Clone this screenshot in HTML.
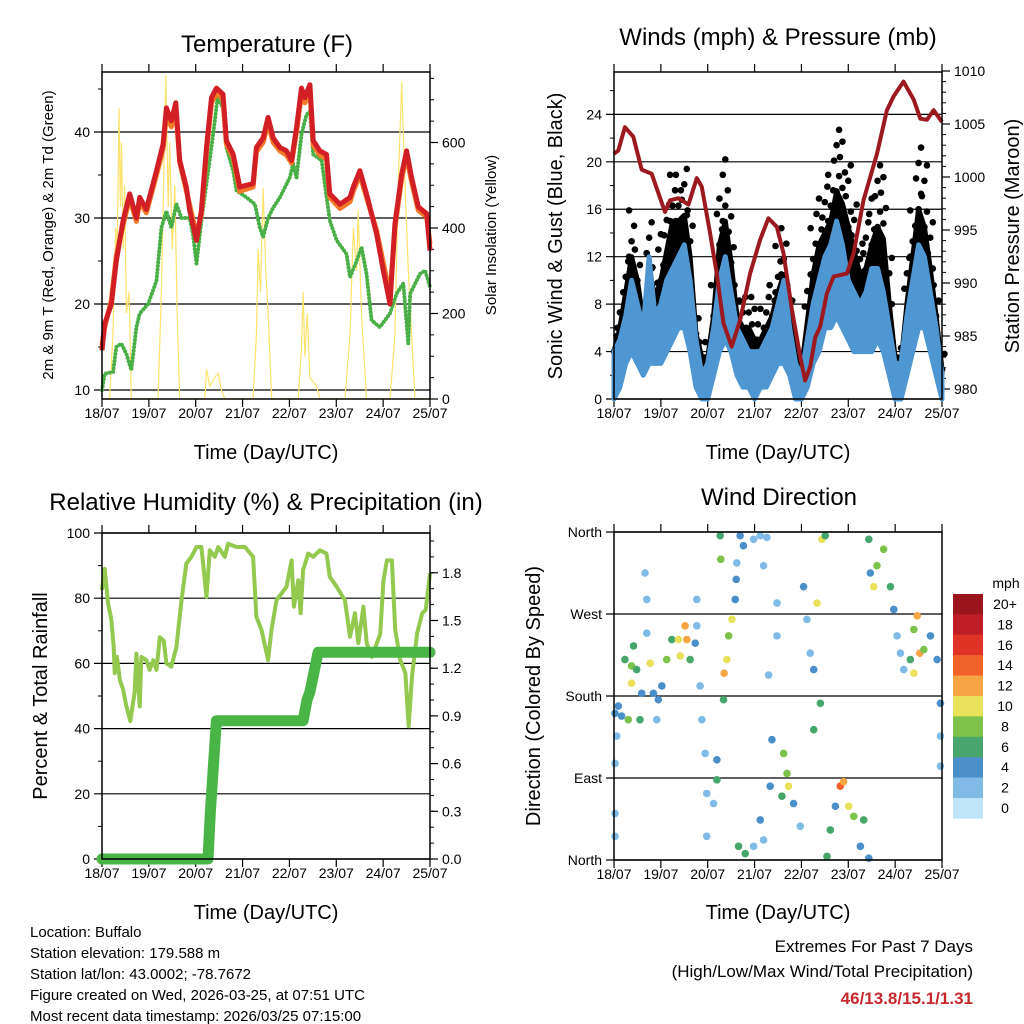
<!DOCTYPE html>
<html><head><meta charset="utf-8">
<style>
html,body{margin:0;padding:0;background:#fff;}
svg{display:block;font-family:"Liberation Sans",sans-serif;}
</style></head>
<body>
<svg id="fig" width="1024" height="1024" viewBox="0 0 1024 1024" xmlns="http://www.w3.org/2000/svg">
<rect width="1024" height="1024" fill="#fff"/>
<text x="267" y="52" font-size="24" text-anchor="middle">Temperature (F)</text>
<text x="778" y="45" font-size="24" text-anchor="middle">Winds (mph) &amp; Pressure (mb)</text>
<text x="266" y="510" font-size="24" text-anchor="middle">Relative Humidity (%) &amp; Precipitation (in)</text>
<text x="779" y="505" font-size="24" text-anchor="middle">Wind Direction</text>

<text x="266" y="459" font-size="20" text-anchor="middle">Time (Day/UTC)</text>
<text x="778" y="459" font-size="20" text-anchor="middle">Time (Day/UTC)</text>
<text x="266" y="919" font-size="20" text-anchor="middle">Time (Day/UTC)</text>
<text x="778" y="919" font-size="20" text-anchor="middle">Time (Day/UTC)</text>

<text transform="translate(53,235) rotate(-90)" font-size="15" text-anchor="middle">2m &amp; 9m T (Red, Orange) &amp; 2m Td (Green)</text>
<text transform="translate(496,235) rotate(-90)" font-size="15" text-anchor="middle">Solar Insolation (Yellow)</text>
<text transform="translate(562,236) rotate(-90)" font-size="20" text-anchor="middle">Sonic Wind &amp; Gust (Blue, Black)</text>
<text transform="translate(1019,236) rotate(-90)" font-size="20" text-anchor="middle">Station Pressure (Maroon)</text>
<text transform="translate(47,696) rotate(-90)" font-size="20" text-anchor="middle">Percent &amp; Total Rainfall</text>
<text transform="translate(540,696) rotate(-90)" font-size="20" text-anchor="middle">Direction (Colored By Speed)</text>

<g font-size="15">
<text x="30" y="937">Location: Buffalo</text>
<text x="30" y="958">Station elevation: 179.588 m</text>
<text x="30" y="979">Station lat/lon: 43.0002; -78.7672</text>
<text x="30" y="1000">Figure created on Wed, 2026-03-25, at 07:51 UTC</text>
<text x="30" y="1021">Most recent data timestamp: 2026/03/25 07:15:00</text>
</g>
<g text-anchor="end">
<text x="973" y="952" font-size="17">Extremes For Past 7 Days</text>
<text x="973" y="977" font-size="17">(High/Low/Max Wind/Total Precipitation)</text>
<text x="973" y="1004" font-size="17" font-weight="bold" fill="#c8282c">46/13.8/15.1/1.31</text>
</g>
<g id="plots"></g>
</svg>
<script>
// ---------- data ----------
const dayLabels = ["18/07","19/07","20/07","21/07","22/07","23/07","24/07","25/07"];
const tempHours = [0,1.4,4.8,7.3,10.8,14.2,17.6,19.3,22.7,27.9,31.3,33,35.5,37.8,39.8,43.2,44.9,48.4,50.9,53.5,56.1,58.6,62,63.7,67.2,70.6,77.4,79.1,82.5,85.1,87.7,91.1,94.5,97.1,99.6,102.2,103.9,106.5,108.2,111.6,115,116.7,121.9,127,128.7,132.1,135.5,140.6,144.1,147.5,150,153.5,156,158.6,162,166.3,168];
const temp2m = [14.6,17.7,20,25,29.7,32.8,30,32.4,31,35.5,38.6,42.8,41.3,43.4,36.7,33.6,30.9,27.4,30.9,38.2,44,45.1,44.4,39,37.4,33.6,34,38.2,39.3,41.7,39.3,38.2,37.8,36.7,40.5,45.1,44,45.5,39,37.8,37.4,32.8,31.6,32.4,33.6,35.5,32.8,28.2,23.9,20,29.3,35.1,37.8,34.7,31.3,30.5,26.2];
const temp9m = [15.2,17.3,20.5,25.6,29.2,32.3,29.6,31.9,30.6,35,38,42,40.6,42.6,36.5,33.2,31.5,28,30.4,37.8,43.4,44.5,43.8,38.6,37,33.1,33.6,37.7,38.8,41,38.8,37.8,37.3,36.4,40,44.4,43.4,44.8,38.5,37.3,36.9,32.4,31.1,31.9,33.1,35,32.4,28.6,24.8,21,28.8,34.6,37.2,34.2,30.9,30.1,27];
const dewHours = [0,1.4,5.7,7.3,9.9,12.5,15,17.6,19.3,23.6,27.9,30.4,33,35.5,38.1,40.7,44.9,46.6,48.4,50.9,54.4,56.9,59.2,62,63.7,67.2,68.9,74,78.3,80.8,82.5,85.1,87.7,91.1,96.2,97.9,99.6,102.2,104.7,106.5,108.2,112.5,116.7,120.2,125.3,127,130.4,132.9,135.5,138.1,142.3,147.5,150.9,154.3,156.9,157.8,162.9,165.5,168];
const dew2m = [10,11.9,12.1,15,15.4,14.2,12.3,17.3,18.9,20,22.7,28.9,30.8,28.9,31.6,30,30,28.1,24.7,29.7,35.5,39.7,44,42.8,38.2,35.5,33.2,32.4,31.6,28.9,27.8,30,31.2,32.4,34.7,36.3,34.7,39.7,42,42.4,37.4,36.7,29.7,27.4,25.8,23.1,25,26.6,23.5,18.1,17.3,18.9,21.2,22.4,15.4,21.2,23.5,23.9,22];
const solarHours = [0,3.9,5.6,7,7.7,8.7,9.4,10,10.8,11.6,12.5,13.9,15,28.7,30.4,31.6,32.7,33.9,34.7,36,37.3,38.5,39.8,52.7,53.5,55.2,57.8,59.5,61.2,62.9,77.4,79.1,80,81.2,82.5,83.9,85.1,86.9,100.5,102.2,103,103.9,105.1,106.5,109.9,111.6,124.4,127,128.7,130.4,131.2,132.9,135.5,147.5,150,151.7,153.5,155.2,156.9,158.6,160.3,168];
const solarValues = [0,0,150,400,300,680,450,600,350,500,200,250,0,0,250,520,758,450,600,350,500,200,0,0,70,30,50,60,20,0,0,150,350,250,493,300,200,0,0,120,250,100,200,50,30,0,0,150,400,300,440,200,0,0,150,500,740,500,300,150,0,0];

const windHours = [0,3,6,9,12,15,18,21,24,27,30,33,36,39,42,45,48,51,54,57,60,63,66,69,72,75,78,81,84,87,90,93,96,99,102,105,108,111,114,117,120,123,126,129,132,135,138,141,144,147,150,153,156,159,162,165,168];
const windHigh = [4,5,7,10,8,6,12,7,8,10,11,12,13,10,5,2,3,6,10,12,9,6,5,4,4,4,5,6,8,10,6,3,2,5,8,10,12,13,15,13,10,9,8,9,11,11,9,6,3,3,7,10,13,12,9,6,2];
const windLow = [0,1,3,4,3,2,3,3,3,4,5,6,6,4,1,0,0,2,4,5,4,2,1,1,0,1,1,2,3,3,2,0,0,1,3,4,6,6,7,6,5,4,4,4,4,5,4,2,0,0,2,4,6,6,4,2,0];
const gustHigh = [6,8,12,16,13,9,16,12,14,17,20,20,20,16,8,6,6,10,18,21,16,10,9,9,8,8,9,10,13,15,10,6,5,10,15,18,19,20,23,22,20,17,14,15,18,20,19,12,6,5,12,17,22,20,15,10,4];
const gustLow = [2,4,6,8,7,4,6,5,6,8,10,10,11,8,3,1,1,4,8,9,7,4,3,3,2,2,3,4,5,6,4,1,0,3,6,8,9,10,12,11,9,8,7,7,8,9,8,4,1,1,4,7,10,9,7,4,1];
const presHours = [0,2.2,5.6,9.9,14.2,19.3,22.7,26.1,28.7,33,38.1,42.4,44.9,49.2,52.6,56.1,60.3,64.6,69.7,74.9,79.1,83.4,86.8,91.1,95.4,97.9,100.5,103.1,105.6,109,112.5,119.3,122.7,127.8,134.7,139.8,143.2,148.3,153.5,156.9,160.3,163.7,168];
const presValues = [1002.2,1002.5,1004.7,1003.8,1000.7,1000.3,998.5,996.7,997.8,998,997.4,999.9,999.1,994.7,990.9,986.2,984,986.5,990.9,994.1,996.1,995.3,992.8,987.5,983,980.8,982.1,984.9,985.9,989,990.6,990.9,992.8,997.8,1002.2,1006.3,1007.6,1009,1007.3,1005.5,1005.4,1006.3,1005.2];

const rhHours = [0,1.4,3.1,4.8,6,6.5,7.7,9.1,10.8,12.5,14.5,16.7,17.6,19.3,20.2,22.7,24.4,26.2,27.9,29.6,31.6,33,35.5,38.1,40.7,43.2,45.8,48.4,50.9,53.5,55.2,57.8,59.5,62.9,64.6,68.9,73.2,77.4,79.1,81.7,85.1,86.8,89.4,92,94.5,97.1,98.3,100.5,101.7,103,105.6,108.2,111.6,115,116.7,120.2,124.4,127,129.6,131.3,133.9,135.6,138.2,142.5,144.2,145.9,148.5,150.2,152.8,155.4,157.1,158.8,161.4,164,165.8,168];
const rhValues = [82.5,89,78.4,73.3,65,57,62,55,52,46.8,42.3,51,63,46.8,62,61,58,61,58,68,67,60,59,65,79.4,90.6,92.7,95.7,95.7,80.4,94.7,92.7,95.7,92.7,96.7,95.7,95.7,92.7,74.3,70.3,61,70.3,79.4,81.5,83.5,91.6,77.4,85.5,75.4,88.6,93.7,92.7,94.7,93.7,86.6,83.5,79.4,68.2,75.4,66.2,77.4,66.2,62,69,85.5,91.6,91.6,70.3,61,57,40.7,56,69.2,75.4,76.4,87.6];
const rainHours = [0,54.3,55.5,58.6,103,105,106.5,110.7,168];
const rainValues = [0,0,0.3,0.87,0.87,1.0,1.05,1.3,1.3];

const dirHours = [0.5,2.2,3.9,1.4,0.5,0.5,0.5,5.6,7.3,9,9,10,11.6,13.3,14.2,15.9,16.8,16.8,18.5,20.2,21.9,22.7,24.5,27,29.6,33,33.9,36.4,37.3,39,41.6,42.4,42.4,44.1,45,46.7,47.5,47.5,52.7,52.7,51,54.4,54.7,56.1,56.4,57.8,58.7,60.4,62.1,62.6,62.9,64.6,66.3,63.8,67.2,71.5,74.9,78.3,76.6,71.5,76.6,74.9,80,80.9,79.2,83.5,83.5,86.9,88.6,89.4,86,92,95.4,97.1,98.8,100.5,102.3,104,105.7,102.3,106.5,108.2,109.1,110.8,113.4,115.9,117.6,120.2,122.8,127.9,126.2,130.5,130.5,131.3,133,134.7,138.1,141.6,143.3,145,146.7,148.4,151.8,153.6,155.3,156.6,153.6,158.7,162.1,165.5,167.2,167.2,167.2];
const dirDegrees = [161,169,158,136,106,51,26,220,154,213,194,235,209,154,183,315,286,249,216,183,154,176,191,220,242,242,224,257,242,220,238,257,286,191,154,117,73,26,110,88,62,356,330,176,205,220,246,264,286,308,326,356,345,15,7,352,356,354,323,15,22,44,81,132,203,282,246,117,95,81,70,62,37,300,264,227,209,282,172,143,352,356,4,33,59,81,86,59,48,44,15,2,352,315,300,323,341,300,275,246,227,209,220,253,268,227,205,231,246,220,172,136,103];
const dirSpeeds = [4,4,4,1,2,2,2,6,7,8,9,6,5,6,4,2,2,1,10,4,2,4,4,7,6,10,10,12,11,6,4,2,1,2,2,2,2,1,4,6,2,6,7,6,12,9,7,9,4,4,2,4,4,6,6,2,1,2,1,2,2,4,4,4,1,2,2,8,7,10,6,4,2,4,2,2,4,9,6,6,10,6,6,6,4,14,12,10,7,6,4,4,6,4,9,7,7,6,4,2,2,1,6,8,12,12,9,7,4,4,4,1,1];
const speedLabels = ["20+","18","16","14","12","10","8","6","4","2","0"];
const speedColors = ["#9a161c","#c01e27","#df3328","#f26129","#f8a546","#e8e159","#7dc24a","#46a66c","#4a8fc9","#7fbbe6","#bde4f8"];
const dirLabels = ["North","East","South","West","North"];

// ---------- helpers ----------
const NS = "http://www.w3.org/2000/svg";
const root = document.getElementById('plots');
function el(tag, attrs, parent){
  const e = document.createElementNS(NS, tag);
  for (const k in attrs) e.setAttribute(k, attrs[k]);
  (parent||root).appendChild(e);
  return e;
}
function pathFrom(xs, ys){ return xs.map((x,i)=>(i?'L':'M')+x.toFixed(1)+','+ys[i].toFixed(1)).join(''); }
function mkX(p){ return h => p.x0 + h/168*(p.x1-p.x0); }

function frame(p, name, yTicks, yFn, yLbl, rTicks, rFn, rLbl, minorL, minorR){
  const g = el('g', {});
  
  
  yTicks.forEach((v,i)=>{
    const y = yFn(v);
    const ln = el('line',{x1:p.x0-8,x2:p.x1,y1:y,y2:y,stroke:'#000','stroke-width':1.2},g);
    
    
    const t = el('text',{x:p.x0-12,y:y+5,'font-size':14,'text-anchor':'end'},g);
    t.textContent = yLbl[i];
    
    
  });
  minorL.forEach(v=>{ const y=yFn(v); el('line',{x1:p.x0-4,x2:p.x0,y1:y,y2:y,stroke:'#000','stroke-width':1},g); });
  if (rTicks){
    rTicks.forEach((v,i)=>{
      const y = rFn(v);
      el('line',{x1:p.x1,x2:p.x1+8,y1:y,y2:y,stroke:'#000','stroke-width':1.2},g);
      const t = el('text',{x:p.x1+12,y:y+5,'font-size':14},g);
      t.textContent = rLbl[i];
      
      
    });
    minorR.forEach(v=>{ const y=rFn(v); el('line',{x1:p.x1,x2:p.x1+4,y1:y,y2:y,stroke:'#000','stroke-width':1},g); });
  }
  const X = mkX(p);
  dayLabels.forEach((d,i)=>{
    const x = X(i*24);
    el('line',{x1:x,x2:x,y1:p.y1,y2:p.y1+8,stroke:'#000','stroke-width':1.2},g);
    el('line',{x1:x,x2:x,y1:p.y0,y2:p.y0-8,stroke:'#000','stroke-width':1.2},g);
    const t = el('text',{x:x,y:p.y1+19,'font-size':14,'text-anchor':'middle'},g);
    t.textContent = d;
    
    
  });
  return g;
}
function border(p, name){
  const r = el('rect',{x:p.x0,y:p.y0,width:p.x1-p.x0,height:p.y1-p.y0,fill:'none',stroke:'#000','stroke-width':1.5});
  
  
}
function range(a,b,s){ const r=[]; for(let v=a; v<=b+1e-9; v+=s) r.push(+v.toFixed(4)); return r; }

// ---------- panel 1: temperature ----------
(function(){
  const p = {x0:102,x1:430,y0:72,y1:399};
  const X = mkX(p);
  const yT = v => 390 - (v-10)*8.6;
  const yS = v => 399 - v*0.4275;
  frame(p,'temp',[10,20,30,40],yT,['10','20','30','40'],[0,200,400,600],yS,['0','200','400','600'],range(15,45,10),range(50,750,50));
  const s = el('path',{d:pathFrom(solarHours.map(X),solarValues.map(yS)),fill:'none',stroke:'#fde36b','stroke-width':1.2});
  
  
  const d = el('path',{d:pathFrom(dewHours.map(X),dew2m.map(yT)),fill:'none',stroke:'#4aaf47','stroke-width':4,'stroke-dasharray':'0.1 3.5','stroke-linecap':'round'});
  
  
  const o = el('path',{d:pathFrom(tempHours.map(X),temp9m.map(yT)),fill:'none',stroke:'#f47a2a','stroke-width':5,'stroke-linejoin':'round'});
  
  
  const r = el('path',{d:pathFrom(tempHours.map(X),temp2m.map(yT)),fill:'none',stroke:'#d21f26','stroke-width':5,'stroke-linejoin':'round'});
  
  
  border(p,'temp');
})();

// ---------- panel 2: winds & pressure ----------
(function(){
  const p = {x0:614,x1:942,y0:72,y1:399};
  const X = mkX(p);
  const yW = v => 399 - v*11.86;
  const yP = v => 389 - (v-980)*10.6;
  frame(p,'wind',[0,4,8,12,16,20,24],yW,['0','4','8','12','16','20','24'],[980,985,990,995,1000,1005,1010],yP,['980','985','990','995','1000','1005','1010'],range(2,26,4),range(981,1009,1));
  const xs = windHours.map(X);
  const gustMid = gustHigh.map((v,i)=>(v+gustLow[i])/2);
  const gb = el('path',{d:pathFrom(xs.concat(xs.slice().reverse()), gustMid.map(yW).concat(gustLow.map(yW).reverse()))+'Z',fill:'#000',stroke:'#000','stroke-width':5,'stroke-linejoin':'round'});
  
  
  gustHigh.forEach((v,i)=>{
    for (let u = gustMid[i]; u <= v; u += 1.3){
      const c = el('circle',{cx:xs[i] + ((Math.round(u*10))%3-1)*2.5,cy:yW(u),r:3.3,fill:'#000'});
      
      
    }
  });
  const wb = el('path',{d:pathFrom(xs.concat(xs.slice().reverse()), windHigh.map(yW).concat(windLow.map(yW).reverse()))+'Z',fill:'#4f97d3',stroke:'#4f97d3','stroke-width':5,'stroke-linejoin':'round'});
  
  
  const pl = el('path',{d:pathFrom(presHours.map(X),presValues.map(yP)),fill:'none',stroke:'#9c1a1f','stroke-width':4,'stroke-linejoin':'round'});
  
  
  border(p,'wind');
})();

// ---------- panel 3: RH & rain ----------
(function(){
  const p = {x0:102,x1:430,y0:533,y1:859};
  const X = mkX(p);
  const yR = v => 859 - v*3.26;
  const yRain = v => 859 - v/0.3*47.7;
  frame(p,'rh',[0,20,40,60,80,100],yR,['0','20','40','60','80','100'],[0,0.3,0.6,0.9,1.2,1.5,1.8],yRain,['0.0','0.3','0.6','0.9','1.2','1.5','1.8'],range(10,90,20),range(0.1,2.0,0.1));
  const rh = el('path',{d:pathFrom(rhHours.map(X),rhValues.map(yR)),fill:'none',stroke:'#93c94f','stroke-width':4,'stroke-linejoin':'round'});
  
  
  const rn = el('path',{d:pathFrom(rainHours.map(X),rainValues.map(yRain)),fill:'none',stroke:'#4ab547','stroke-width':11,'stroke-linejoin':'round','stroke-linecap':'round'});
  
  
  border(p,'rh');
})();

// ---------- panel 4: wind direction ----------
(function(){
  const p = {x0:614,x1:942,y0:532,y1:860};
  const X = mkX(p);
  const yD = d => 860 - d/360*328;
  frame(p,'dir',[0,90,180,270,360],yD,dirLabels,null,null,null,[],[]);
  dirHours.forEach((h,i)=>{
    const idx = 10 - Math.min(10, Math.round(dirSpeeds[i]/2));
    const c = el('circle',{cx:X(h),cy:yD(dirDegrees[i]),r:3.8,fill:speedColors[idx]});
    
    
  });
  border(p,'dir');
  const cb = el('g',{});
  
  
  const t0 = el('text',{x:1006,y:588,'font-size':14,'text-anchor':'middle'},cb);
  t0.textContent = 'mph';
  speedLabels.forEach((lab,i)=>{
    const y = 594 + i*20.4;
    const r = el('rect',{x:953,y:y,width:30,height:20.6,fill:speedColors[i]},cb);
    
    
    const t = el('text',{x:1005,y:y+15,'font-size':14,'text-anchor':'middle'},cb);
    t.textContent = lab;
    
    
  });
})();
</script>
</body></html>
